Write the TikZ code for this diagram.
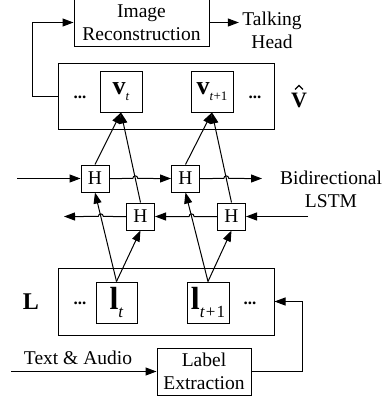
\documentclass[tikz,border=0pt]{standalone}
\usepackage{fontspec}
\setmainfont{Liberation Serif}
\usetikzlibrary{arrows.meta,calc}
\newcommand{\vsym}[1]{{\fontsize{26}{26}\selectfont\bfseries v}\raisebox{-6pt}{\fontsize{13}{13}\selectfont #1}}
\newcommand{\lsym}[1]{{\fontsize{32}{32}\selectfont\bfseries l}\raisebox{-8pt}{\fontsize{17}{17}\selectfont #1}}
\newcommand{\mydots}{{\fontsize{17}{17}\selectfont\bfseries ...}}
\begin{document}
\begin{tikzpicture}[x=1pt,y=-1pt,
  every node/.style={font=\fontsize{19.5}{23}\selectfont},
  box/.style={draw, line width=1pt, inner sep=0pt, align=center},
  arr/.style={-{Triangle[length=11pt,width=8pt]}, line width=1pt},
  ln/.style={line width=1pt}]
\useasboundingbox (0,0) rectangle (385,402);
% top
\node[box, minimum width=135pt, minimum height=47pt] (rec) at (141.5,22.5) {Image\\Reconstruction};
\node[align=center] (th) at (272,30) {Talking\\Head};
\draw[arr] (rec.east) -- (rec.east -| th.west);
% V box
\node[box, minimum width=216pt, minimum height=66pt] (Vb) at (166,96) {};
\node[box, minimum width=42pt, minimum height=41pt] (vt) at (121,91.5) {\vsym{\textit{t}}};
\node[box, minimum width=42pt, minimum height=41pt] (vt1) at (212,91.5) {\vsym{\textit{t}+1}};
\node (vd1) at (80,97) {\mydots};
\node (vd2) at (255,97) {\mydots};
\node[inner sep=0pt] (Vhat) at (299,100) {\fontsize{22}{22}\selectfont\bfseries V};
\draw[line width=1.3pt, line join=miter] ($(Vhat.north)+(-4,-3)$) -- ($(Vhat.north)+(0,-7)$) -- ($(Vhat.north)+(4,-3)$);
\coordinate (fb) at (32,96);
\draw[arr] (Vb.west) -- (fb) |- (rec.west);
% LSTM cells
\node[box, minimum width=28pt, minimum height=27pt] (H1) at (95,178.5) {H};
\node[box, minimum width=28pt, minimum height=27pt] (H2) at (185.5,178.5) {H};
\node[box, minimum width=28pt, minimum height=27pt] (H3) at (140.5,216.5) {H};
\node[box, minimum width=28pt, minimum height=27pt] (H4) at (231.5,216.5) {H};
\node[align=center] (bl) at (331,189) {Bidirectional\\LSTM};
% L box
\node[box, minimum width=216pt, minimum height=67pt] (Lb) at (166,301.5) {};
\node[box, minimum width=41pt, minimum height=41pt] (lt) at (116.5,302.5) {\lsym{\textit{t}}};
\node[box, minimum width=42pt, minimum height=41pt] (lt1) at (208,302.5) {\lsym{\textit{t}\kern1pt+\kern1pt1}};
\node (ld1) at (80,303) {\mydots};
\node (ld2) at (250,303) {\mydots};
\node (Lsym) at (31,302) {\fontsize{24}{24}\selectfont\bfseries L};
% label extraction
\node[box, minimum width=94pt, minimum height=47pt] (le) at (204,371.5) {Label\\Extraction};
\node (ta) at (78,358) {Text \& Audio};
\coordinate (tain) at (11,371.5);
\coordinate (rc) at (302,371.5);
\draw[arr] (tain) -- (le.west);
\draw[arr] (le.east) -- (rc) |- (Lb.east);
% helper coordinates
\coordinate (H1n) at (H1.north); \coordinate (H2n) at (H2.north);
\coordinate (H3n) at (H3.north); \coordinate (H4n) at (H4.north);
\coordinate (H1s) at (H1.south); \coordinate (H2s) at (H2.south);
\coordinate (H1e) at (H1.east); \coordinate (H2w) at (H2.west);
\coordinate (H3e) at (H3.east); \coordinate (H4w) at (H4.west);
\coordinate (vts) at (vt.south); \coordinate (vt1s) at (vt1.south);
\coordinate (ltn) at (lt.north); \coordinate (lt1n) at (lt1.north);
\coordinate (hA) at (intersection of H3n--vts and H1e--H2w);
\coordinate (hB) at (intersection of H4n--vt1s and H1e--H2w);
\coordinate (hC) at (intersection of ltn--H1s and H3e--H4w);
\coordinate (hD) at (intersection of lt1n--H2s and H3e--H4w);
\coordinate (uin) at (17,178.5);
\coordinate (uout) at (262,178.5);
\coordinate (lin) at (308,216.5);
\coordinate (lout) at (64,216.5);
% forward line
\draw[arr] (uin) -- (H1.west);
\draw[arr] (H1.east) -- ($(hA)+(-2.5,0)$) .. controls +(0,-3.5) and +(0,-3.5) .. ($(hA)+(2.5,0)$) -- (H2.west);
\draw[arr] (H2.east) -- ($(hB)+(-2.5,0)$) .. controls +(0,-3.5) and +(0,-3.5) .. ($(hB)+(2.5,0)$) -- (uout);
% backward line
\draw[arr] (lin) -- (H4.east);
\draw[arr] (H4.west) -- ($(hD)+(2.5,0)$) .. controls +(0,-3.5) and +(0,-3.5) .. ($(hD)+(-2.5,0)$) -- (H3.east);
\draw[arr] (H3.west) -- ($(hC)+(2.5,0)$) .. controls +(0,-3.5) and +(0,-3.5) .. ($(hC)+(-2.5,0)$) -- (lout);
% diagonals
\draw[arr] (H1.north) -- (vt.south);
\draw[arr] (H3.north) -- (vt.south);
\draw[arr] (H2.north) -- (vt1.south);
\draw[arr] (H4.north) -- (vt1.south);
\draw[arr] (lt.north) -- (H1.south);
\draw[arr] (lt.north) -- (H3.south);
\draw[arr] (lt1.north) -- (H2.south);
\draw[arr] (lt1.north) -- (H4.south);
\end{tikzpicture}
\end{document}
